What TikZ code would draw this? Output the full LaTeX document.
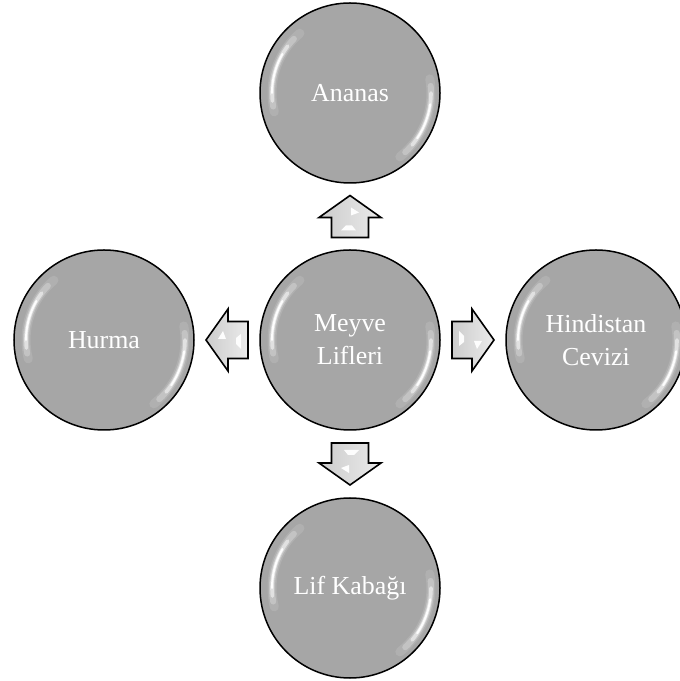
\documentclass[tikz,border=0pt]{standalone}
\usepackage{fontspec}
\setmainfont{Liberation Serif}
\usetikzlibrary{calc}

\definecolor{ballgray}{HTML}{A6A6A6}
\definecolor{ballrim}{HTML}{939393}
\definecolor{arrowlight}{HTML}{EBEBEB}
\definecolor{arrowdark}{HTML}{CCCCCC}

% flat grey ball, slightly darker towards the rim
\pgfdeclareradialshading{ballshade}{\pgfpoint{0bp}{0bp}}{%
  color(0bp)=(ballgray); color(43bp)=(ballgray); color(50bp)=(ballrim)}

\tikzset{
  ball/.style={circle, minimum size=180bp, inner sep=0pt, draw=black,
    line width=1.5bp, shading=ballshade, align=center, text=white,
    font=\fontsize{26}{33}\selectfont},
  blockarrow/.pic={
    \path[draw=black, line width=1.6bp, left color=arrowdark, right color=arrowlight]
      (-21,-18.5) -- (-1,-18.5) -- (-1,-31) -- (21,0) -- (-1,31) -- (-1,18.5)
      -- (-21,18.5) -- cycle;
    \fill[white, opacity=0.95] (-14,9) -- (-9,4) -- (-9,-2) -- (-14,-6) -- cycle;
    \fill[white, opacity=0.95] (1,-1) -- (9,-1) -- (4,-9) -- cycle;
  }
}

% white glossy reflections along the inner edge of a ball
\newcommand\ballgloss[1]{%
  \foreach \gw/\go/\ga/\gb in {9/0.12/130/194, 6/0.25/136/190, 3.6/0.5/143/186, 2/0.95/150/180}{
    \draw[white, line width=\gw bp, opacity=\go, line cap=round]
      ($(#1.center)+(\ga:78)$) arc[start angle=\ga, end angle=\gb, radius=78];
  }
  \foreach \gw/\go/\ga/\gb in {9/0.12/-52/10, 6/0.25/-47/5, 3.6/0.5/-40/0, 2/0.95/-34/-8}{
    \draw[white, line width=\gw bp, opacity=\go, line cap=round]
      ($(#1.center)+(\ga:81)$) arc[start angle=\ga, end angle=\gb, radius=81];
  }
}

\begin{document}
\begin{tikzpicture}[x=1bp, y=1bp]
  \useasboundingbox (0,0) rectangle (680,681);
  \clip (0,0) rectangle (680,681);

  \node[ball] (fruit)   at (350,341) {Meyve\\Lifleri};
  \node[ball] (ananas)  at (350,588) {Ananas};
  \node[ball] (lif)     at (350,93)  {Lif Kabağı};
  \node[ball] (hurma)   at (104,341) {Hurma};
  \node[ball] (hindi)   at (596,341) {Hindistan\\Cevizi};

  \foreach \ballname in {fruit, ananas, lif, hurma, hindi}{\ballgloss{\ballname}}

  \pic[rotate=90]  at ($(fruit)!0.5!(ananas)$) {blockarrow};
  \pic[rotate=-90] at ($(fruit)!0.5!(lif)$)    {blockarrow};
  \pic[rotate=180] at ($(fruit)!0.5!(hurma)$)  {blockarrow};
  \pic             at ($(fruit)!0.5!(hindi)$)  {blockarrow};
\end{tikzpicture}
\end{document}
